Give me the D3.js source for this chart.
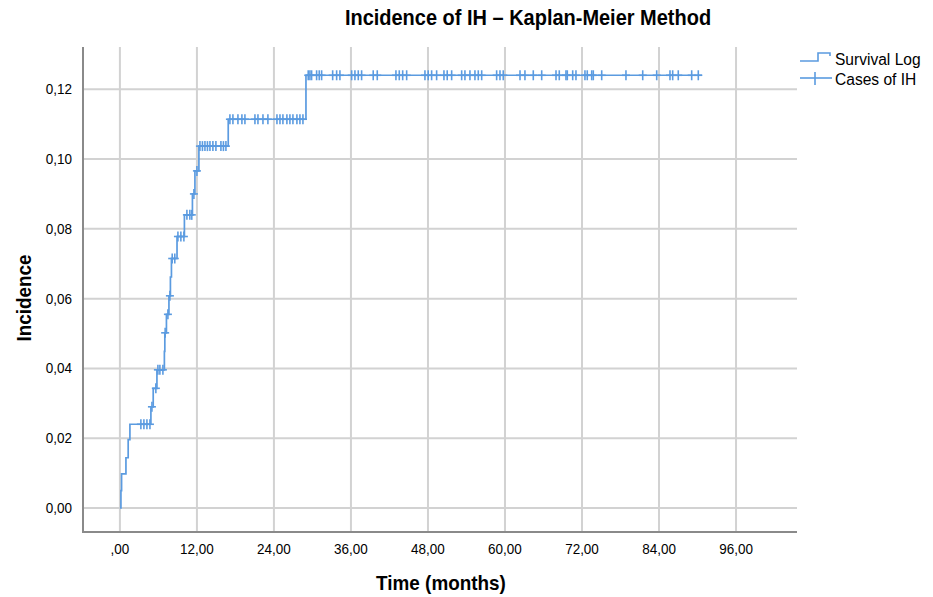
<!DOCTYPE html>
<html>
<head>
<meta charset="utf-8">
<script src="https://cdn.jsdelivr.net/npm/d3@7"></script>
<style>
  html, body { margin: 0; padding: 0; background: #fff; }
  svg { display: block; }
  text { font-family: "Liberation Sans", Arial, sans-serif; fill: #000; }
</style>
</head>
<body>
<svg id="chart" width="933" height="597"></svg>
<script>
// ---------------- DATA ----------------
const chartTitle = "Incidence of IH \u2013 Kaplan-Meier Method";
const xTitle = "Time (months)";
const yTitle = "Incidence";
const legendLabels = ["Survival Log", "Cases of IH"];

const xTickValues = [0, 12, 24, 36, 48, 60, 72, 84, 96];
const xTickLabels = [",00", "12,00", "24,00", "36,00", "48,00", "60,00", "72,00", "84,00", "96,00"];
const yTickValues = [0, 0.02, 0.04, 0.06, 0.08, 0.10, 0.12];
const yTickLabels = ["0,00", "0,02", "0,04", "0,06", "0,08", "0,10", "0,12"];

// event times (months) and cumulative incidence after each event
const eventTimes = [0.16, 0.26, 0.94, 1.29, 1.56, 4.83, 5.19, 5.77, 6.93, 7.00, 7.25, 7.64, 7.87, 8.03,
                    8.90, 10.05, 11.30, 11.69, 12.31, 16.88, 28.99];
const eventLevels = [0.0050, 0.0098, 0.0144, 0.0196, 0.0240, 0.0290, 0.0343, 0.0396, 0.0449, 0.0502,
                     0.0555, 0.0608, 0.0662, 0.0715, 0.0778, 0.0840, 0.0900, 0.0966, 0.1037, 0.1114, 0.1240];
// censored observations (months)
const censorTimes = [3.27, 3.74, 4.21, 4.68, 4.99, 5.60, 5.92, 6.23, 6.70, 7.05, 7.48, 7.79, 8.15, 8.55,
  9.04, 9.50, 9.97, 10.44, 10.90, 11.20, 11.53, 12.00,
  12.47, 12.86, 13.25, 13.64, 14.03, 14.49, 14.96, 15.74, 16.13, 16.52,
  17.14, 17.61, 18.39, 19.01, 19.48, 21.04, 21.51, 22.29, 23.06, 24.47, 24.94, 25.40, 26.02, 26.49,
  26.96, 27.58, 28.05, 28.52,
  29.34, 29.61, 29.87, 30.65, 31.06, 31.43, 33.15, 33.77, 34.28, 36.11, 36.62, 37.14, 37.66, 39.47,
  40.10, 43.01, 43.53, 44.06, 44.68, 47.53, 48.04, 48.57, 49.35, 50.49, 51.00, 51.69, 53.25, 53.76,
  54.54, 55.32, 55.84, 56.37, 58.70, 59.22, 59.73, 62.34, 63.11, 64.41, 65.72, 67.95, 68.46, 69.50,
  69.71, 70.55, 71.06, 72.46, 72.82, 73.51, 73.76, 75.07, 78.85, 81.46, 83.64, 85.71, 86.13, 87.00,
  89.09, 90.12];
const followUpEnd = 90.7;

// ---------------- LAYOUT ----------------
const plot = { left: 83, right: 797, top: 47, bottom: 532 };
const xDomain = [-5.75, 105.5];
const yDomain = [-0.00687, 0.1321];
const lineColor = "#5b9be0";
const gridColor = "#d2d2d2";
const axisColor = "#8a8a8a";
const squeeze = 0.9;

const svg = d3.select("#chart");
const x = d3.scaleLinear().domain(xDomain).range([plot.left, plot.right]);
const y = d3.scaleLinear().domain(yDomain).range([plot.bottom, plot.top]);

function sText(g, str, px, py, size, weight, anchor, rot) {
  return g.append("text")
    .attr("transform", `translate(${px},${py})` + (rot ? ` rotate(${rot})` : "") + ` scale(${squeeze},1)`)
    .attr("text-anchor", anchor)
    .style("font-size", size + "px")
    .style("font-weight", weight)
    .text(str);
}

// grid
const grid = svg.append("g");
grid.selectAll("line.h").data(yTickValues).join("line")
  .attr("x1", plot.left).attr("x2", plot.right)
  .attr("y1", d => y(d)).attr("y2", d => y(d))
  .attr("stroke", gridColor).attr("stroke-width", 2);
grid.selectAll("line.v").data(xTickValues).join("line")
  .attr("x1", d => x(d)).attr("x2", d => x(d))
  .attr("y1", plot.top).attr("y2", plot.bottom)
  .attr("stroke", gridColor).attr("stroke-width", 2);

// axes lines
svg.append("line").attr("x1", plot.left).attr("x2", plot.left).attr("y1", plot.top).attr("y2", plot.bottom + 1)
  .attr("stroke", axisColor).attr("stroke-width", 2);
svg.append("line").attr("x1", plot.left - 1).attr("x2", plot.right).attr("y1", plot.bottom).attr("y2", plot.bottom)
  .attr("stroke", axisColor).attr("stroke-width", 2);

// tick labels
const tl = svg.append("g");
xTickValues.forEach((v, i) => sText(tl, xTickLabels[i], x(v), 554, 15, "normal", "middle"));
yTickValues.forEach((v, i) => sText(tl, yTickLabels[i], 72, y(v) + 5, 15, "normal", "end"));

// titles
sText(svg, chartTitle, 528, 25, 22.2, "bold", "middle");
sText(svg, xTitle, 441, 590, 21, "bold", "middle");
sText(svg, yTitle, 31, 298, 21, "bold", "middle", -90);

// step curve
const pts = [[0, 0]].concat(eventTimes.map((t, i) => [t, eventLevels[i]]));
pts.push([followUpEnd, eventLevels[eventLevels.length - 1]]);
const line = d3.line().x(d => x(d[0])).y(d => y(d[1])).curve(d3.curveStepAfter);
svg.append("path").attr("d", line(pts)).attr("fill", "none")
  .attr("stroke", lineColor).attr("stroke-width", 1.7);

// censor marks
function levelAt(t) {
  let lv = 0;
  eventTimes.forEach((et, i) => { if (et <= t) lv = eventLevels[i]; });
  return lv;
}
const marks = svg.append("g").attr("stroke", lineColor).attr("stroke-width", 1.6);
censorTimes.forEach(t => {
  const cx = x(t), cy = y(levelAt(t));
  marks.append("line").attr("x1", cx).attr("x2", cx).attr("y1", cy - 5).attr("y2", cy + 5);
  marks.append("line").attr("x1", cx - 4).attr("x2", cx + 4).attr("y1", cy).attr("y2", cy);
});

// legend
const lg = svg.append("g");
lg.append("path").attr("d", "M800,61 H818 V53 H830 V56").attr("fill", "none")
  .attr("stroke", lineColor).attr("stroke-width", 1.6);
lg.append("line").attr("x1", 800).attr("x2", 832).attr("y1", 78).attr("y2", 78)
  .attr("stroke", lineColor).attr("stroke-width", 1.6);
lg.append("line").attr("x1", 815).attr("x2", 815).attr("y1", 72).attr("y2", 85)
  .attr("stroke", lineColor).attr("stroke-width", 1.6);
sText(lg, legendLabels[0], 835, 65, 17.3, "normal", "start");
sText(lg, legendLabels[1], 835, 85, 17.3, "normal", "start");
</script>
</body>
</html>
